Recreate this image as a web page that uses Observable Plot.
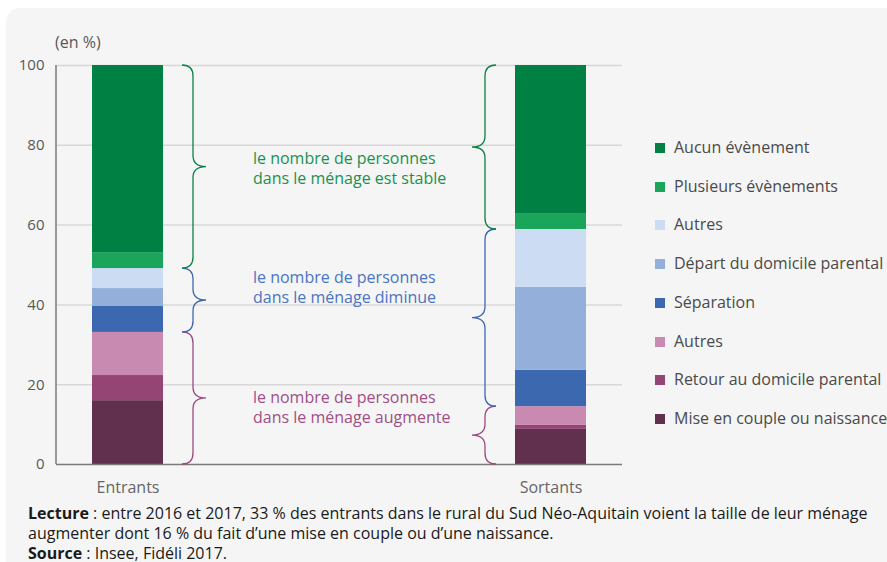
<!DOCTYPE html>
<html>
<head>
<meta charset="utf-8">
<script src="https://cdn.jsdelivr.net/npm/d3@7"></script>
<script src="https://cdn.jsdelivr.net/npm/@observablehq/plot@0.6"></script>
<style>
  html, body { margin: 0; padding: 0; background: #ffffff; }
  body { width: 887px; height: 562px; position: relative; overflow: hidden; font-family: "Open Sans", sans-serif; }
  #panel { position: absolute; left: 6px; top: 8px; width: 881px; height: 554px; background: #f5f5f5; border-top-left-radius: 14px; }
  #unit { position: absolute; left: 55px; top: 32px; font-size: 16px; line-height: 20px; color: #595959; }
  #chart { position: absolute; left: 0; top: 55px; }
  #chart g[aria-label^="x-axis"] text { font-size: 16px; fill: #666666; }
  #legend { position: absolute; left: 655px; top: 0; }
  .item { position: absolute; left: 0; height: 20px; line-height: 20px; white-space: nowrap; font-size: 16px; color: #4a4a4a; }
  .sw { display: inline-block; width: 10px; height: 10px; margin-right: 9px; vertical-align: 0px; }
  #caption { position: absolute; left: 28px; top: 503px; width: 856px; font-size: 16px; line-height: 20px; color: #1a1a1a; }
</style>
</head>
<body>
<div id="panel"></div>
<div id="unit">(en %)</div>
<div id="chart"></div>
<div id="legend"></div>
<div id="caption"><b>Lecture</b> : entre 2016 et 2017, 33 % des entrants dans le rural du Sud Néo-Aquitain voient la taille de leur ménage augmenter dont 16 % du fait d’une mise en couple ou d’une naissance.<br><b>Source</b> : Insee, Fidéli 2017.</div>
<script>
// ---- Data ----
const categories = ["Entrants", "Sortants"];
const typeKeys = ["mise", "retour", "autresAug", "separation", "depart", "autresDim", "plusieurs", "aucun"];
const typeLabels = ["Mise en couple ou naissance", "Retour au domicile parental", "Autres", "Séparation", "Départ du domicile parental", "Autres", "Plusieurs évènements", "Aucun évènement"];
const typeGroups = ["aug", "aug", "aug", "dim", "dim", "dim", "stable", "stable"];
const entrantsValues = [16.0, 6.3, 10.8, 6.5, 4.5, 5.0, 4.0, 46.9];
const sortantsValues = [8.8, 1.0, 4.7, 9.1, 20.8, 14.5, 4.0, 37.1];
const typeColors = ["#62304f", "#944574", "#c98ab2", "#3c68b0", "#94afd9", "#cbdcf3", "#1ba55a", "#008042"];
const yTicks = [0, 20, 40, 60, 80, 100];

const groupKeys = ["aug", "dim", "stable"];
const groupTexts = [
  "le nombre de personnes\ndans le ménage augmente",
  "le nombre de personnes\ndans le ménage diminue",
  "le nombre de personnes\ndans le ménage est stable"
];
const groupTextY = [14.5, 44.6, 74.5];
const groupBraceColors = ["#9b4a80", "#3c68b0", "#0b8347"];
const groupTextColors = ["#a04f86", "#4b74c1", "#1a9150"];

// ---- Build tables ----
const seriesByCat = { Entrants: entrantsValues, Sortants: sortantsValues };
const rows = [];
categories.forEach(cat => {
  typeKeys.forEach((k, i) => rows.push({ cat, key: k, value: seriesByCat[cat][i] }));
});

// brace ranges per category/group from cumulative sums
const braces = [];
categories.forEach((cat, ci) => {
  let cum = 0;
  groupKeys.forEach((g, gi) => {
    const start = cum;
    typeKeys.forEach((k, i) => { if (typeGroups[i] === g) cum += seriesByCat[cat][i]; });
    braces.push({ cat, dir: ci === 0 ? 1 : -1, y0: start, y1: cum, color: groupBraceColors[gi] });
  });
});

const annotations = groupKeys.map((g, gi) => ({ cat: "Entrants", y: groupTextY[gi], text: groupTexts[gi], color: groupTextColors[gi] }));

function braceMark(index, scales, values, dimensions) {
  const x = scales.x, y = scales.y;
  const bw = x.bandwidth ? x.bandwidth() : 71;
  const g = d3.create("svg:g");
  // left axis line
  g.append("line")
    .attr("x1", dimensions.marginLeft).attr("x2", dimensions.marginLeft)
    .attr("y1", y(0)).attr("y2", y(100))
    .attr("stroke", "#7a7a7a").attr("stroke-width", 1.5);
  const r = 11;
  braces.forEach(b => {
    const left = x(b.cat), right = left + bw;
    const edge = b.dir > 0 ? right : left;
    const xe = edge + b.dir * 19, xv = edge + b.dir * 30, xt = edge + b.dir * 43;
    const yt = y(b.y1), yb = y(b.y0), ym = (yt + yb) / 2;
    const rr = Math.min(r, (yb - yt) / 4);
    const p = d3.path();
    p.moveTo(xe, yt);
    p.quadraticCurveTo(xv, yt, xv, yt + rr);
    p.lineTo(xv, ym - rr);
    p.quadraticCurveTo(xv, ym, xt, ym);
    p.quadraticCurveTo(xv, ym, xv, ym + rr);
    p.lineTo(xv, yb - rr);
    p.quadraticCurveTo(xv, yb, xe, yb);
    g.append("path").attr("d", p.toString()).attr("fill", "none")
      .attr("stroke", b.color).attr("stroke-width", 1.3);
  });
  return g.node();
}

const chart = Plot.plot({
  width: 887,
  height: 449,
  marginLeft: 56,
  marginRight: 265,
  marginTop: 10,
  marginBottom: 40,
  style: { background: "transparent", fontFamily: "Open Sans, sans-serif", fontSize: "15px", color: "#595959" },
  x: { domain: categories, paddingInner: 0.8325, paddingOuter: 0.084, align: 0.5, tickSize: 0, tickPadding: 17, label: null },
  y: { domain: [0, 100], ticks: yTicks, tickSize: 0, tickPadding: 12, label: null },
  color: { domain: typeKeys, range: typeColors },
  marks: [
    Plot.ruleY(yTicks.filter(d => d > 0), { stroke: "#d8d8d8", strokeWidth: 1.5 }),
    Plot.barY(rows, { x: "cat", y: "value", fill: "key", order: typeKeys }),
    Plot.ruleY([0], { stroke: "#7a7a7a", strokeWidth: 1.5 }),
    braceMark,
    Plot.text(annotations, { x: "cat", y: "y", text: "text", fill: "color", dx: 125, textAnchor: "start", lineHeight: 1.25, fontSize: 16 })
  ]
});
document.getElementById("chart").appendChild(chart);

// ---- Legend (top to bottom = reverse stacking order) ----
const legend = document.getElementById("legend");
const legendCenters0 = 147, legendStep = 38.7;
typeKeys.slice().reverse().forEach((k, j) => {
  const i = typeKeys.indexOf(k);
  const div = document.createElement("div");
  div.className = "item";
  div.style.top = (legendCenters0 + j * legendStep - 10) + "px";
  const sw = document.createElement("span");
  sw.className = "sw";
  sw.style.background = typeColors[i];
  div.appendChild(sw);
  div.appendChild(document.createTextNode(typeLabels[i]));
  legend.appendChild(div);
});
</script>
</body>
</html>
